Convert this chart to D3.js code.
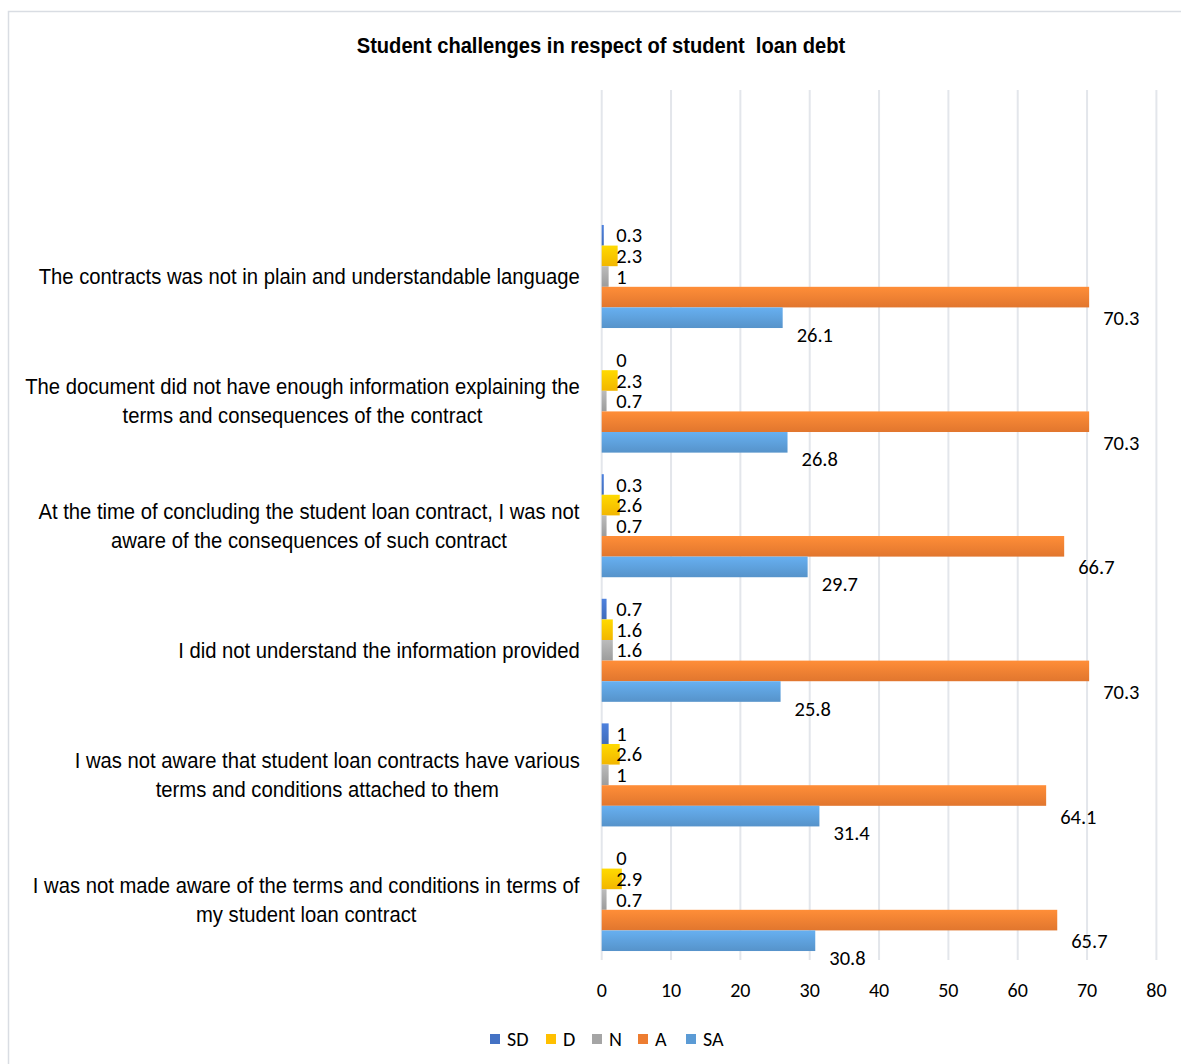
<!DOCTYPE html>
<html><head><meta charset="utf-8">
<script src="https://cdn.jsdelivr.net/npm/d3@7"></script>
<style>body{margin:0;background:#fff}</style>
</head><body>
<svg id="chart" width="1181" height="1064"></svg>
<script>
const title = "Student challenges in respect of student  loan debt";
const categories = [
  ["The contracts was not in plain and understandable language"],
  ["The document did not have enough information explaining the", "terms and consequences of the contract"],
  ["At the time of concluding the student loan contract, I was not", "aware of the consequences of such contract"],
  ["I did not understand the information provided"],
  ["I was not aware that student loan contracts have various", "terms and conditions attached to them"],
  ["I was not made aware of the terms and conditions in terms of", "my student loan contract"]
];
const seriesNames = ["SD", "D", "N", "A", "SA"];
const SD = [0.3, 0, 0.3, 0.7, 1, 0];
const D  = [2.3, 2.3, 2.6, 1.6, 2.6, 2.9];
const N  = [1, 0.7, 0.7, 1.6, 1, 0.7];
const A  = [70.3, 70.3, 66.7, 70.3, 64.1, 65.7];
const SA = [26.1, 26.8, 29.7, 25.8, 31.4, 30.8];
const tickValues = [0, 10, 20, 30, 40, 50, 60, 70, 80];
const colors = ["#4472C4", "#FFC000", "#A5A5A5", "#ED7D31", "#5B9BD5"];

const values = [SD, D, N, A, SA];
const svg = d3.select("#chart");
const narrowFont = "'Liberation Sans', Arial, sans-serif";
const numFont = "Carlito, Lato, 'Open Sans', sans-serif";
const narrow = 0.9;

// border
svg.append("rect").attr("x", 8.5).attr("y", 11.5).attr("width", 1180).attr("height", 1060)
  .attr("fill", "none").attr("stroke", "#D9DDE3").attr("stroke-width", 1.5);

// gradients
const defs = svg.append("defs");
colors.forEach((c, i) => {
  const g = defs.append("linearGradient").attr("id", "g" + i)
    .attr("x1", 0).attr("y1", 0).attr("x2", 0).attr("y2", 1);
  g.append("stop").attr("offset", "0%").attr("stop-color", d3.color(c).brighter(0.35));
  g.append("stop").attr("offset", "100%").attr("stop-color", d3.color(c).darker(0.15));
});

// title (narrow bold)
svg.append("text").attr("transform", `translate(601,53) scale(0.915,1)`).attr("text-anchor", "middle")
  .attr("font-family", narrowFont).style("white-space", "pre")
  .attr("font-weight", "bold").attr("font-size", 22).attr("fill", "#000").text(title);

const x = d3.scaleLinear().domain([0, 80]).range([601.7, 1156.4]);
const y = d3.scaleBand().domain(d3.range(categories.length)).range([214.2, 961.8]).paddingInner(0.173).paddingOuter(0.0865);
const ySub = d3.scaleBand().domain(d3.range(seriesNames.length)).range([0, y.bandwidth()]);

// gridlines
svg.append("g").selectAll("line").data(tickValues).join("line")
  .attr("x1", d => x(d)).attr("x2", d => x(d)).attr("y1", 90).attr("y2", 960)
  .attr("stroke", "#E3E6EB").attr("stroke-width", 2);

const labelOffsetY = [0, 0, 0, 21, 17];

// bars
const groups = svg.append("g").selectAll("g").data(categories).join("g")
  .attr("transform", (d, i) => `translate(0,${y(i)})`);
groups.each(function(cat, ci) {
  const g = d3.select(this);
  seriesNames.forEach((s, si) => {
    const v = values[si][ci];
    g.append("rect").attr("x", x(0)).attr("y", ySub(si))
      .attr("width", Math.max(0, x(v) - x(0))).attr("height", ySub.bandwidth())
      .attr("fill", `url(#g${si})`);
  });
  seriesNames.forEach((s, si) => {
    const v = values[si][ci];
    const cy = ySub(si) + ySub.bandwidth() / 2;
    const big = si >= 3;
    g.append("text")
      .attr("x", big ? x(v) + 14 : x(0) + 14.5)
      .attr("y", cy + labelOffsetY[si])
      .attr("dy", "0.35em")
      .attr("font-family", numFont)
      .attr("font-size", 20.5).attr("fill", "#000").text(v);
  });
});

// category labels
const labG = svg.append("g");
categories.forEach((lines, ci) => {
  const cy = y(ci) + y.bandwidth() / 2;
  const t = labG.append("text").attr("font-family", narrowFont).attr("font-size", 22.5).attr("fill", "#000")
    .attr("text-anchor", "middle");
  const lh = 29;
  lines.forEach((ln, li) => {
    t.append("tspan").attr("x", 0).attr("y", (li - (lines.length - 1) / 2) * lh).attr("dy", "0.35em").text(ln);
  });
  const w = t.node().getBBox().width * narrow;
  t.attr("transform", `translate(${580 - w / 2},${cy}) scale(${narrow},1)`);
});

// x axis labels
svg.append("g").selectAll("text").data(tickValues).join("text")
  .attr("x", d => x(d)).attr("y", 990).attr("dy", "0.35em").attr("text-anchor", "middle")
  .attr("font-family", numFont).attr("font-size", 20).attr("fill", "#000")
  .text(d => d);

// legend
const legendX = [490, 546, 592, 638, 686];
const lg = svg.append("g");
seriesNames.forEach((s, i) => {
  lg.append("rect").attr("x", legendX[i]).attr("y", 1034).attr("width", 10).attr("height", 10).attr("fill", colors[i]);
  lg.append("text").attr("x", legendX[i] + 17).attr("y", 1039).attr("dy", "0.35em")
    .attr("font-family", numFont).attr("font-size", 20).attr("fill", "#000").text(s);
});
</script>
</body></html>
